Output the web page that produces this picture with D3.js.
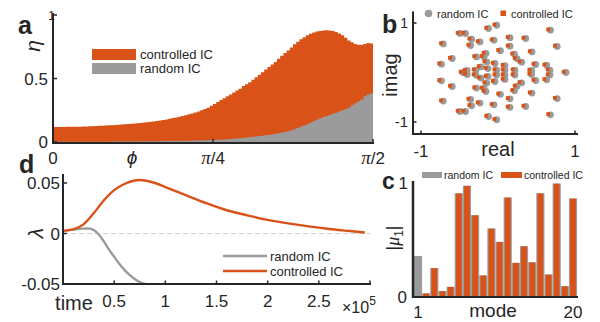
<!DOCTYPE html>
<html>
<head>
<meta charset="utf-8">
<script src="https://cdn.jsdelivr.net/npm/d3@7"></script>
<style>
  body { margin: 0; background: #fff; }
  text { font-family: "Liberation Sans", Arial, sans-serif; fill: #262626; }
</style>
</head>
<body>
<svg id="fig" width="600" height="322"></svg>
<script>
const ORANGE = "#d95319", GRAY = "#9b9b9b", INK = "#262626";

// ---- panel a: eta vs phi (100 bins over [0, pi/2]) ----
const etaControlled = [
  0.118,0.118,0.119,0.119,0.120,0.120,0.120,0.121,0.121,0.122,
  0.123,0.124,0.125,0.126,0.127,0.128,0.130,0.131,0.132,0.134,
  0.135,0.137,0.139,0.141,0.143,0.145,0.148,0.150,0.153,0.156,
  0.159,0.162,0.166,0.170,0.174,0.178,0.183,0.188,0.193,0.199,
  0.205,0.211,0.218,0.225,0.232,0.240,0.250,0.260,0.270,0.285,
  0.300,0.315,0.330,0.345,0.360,0.375,0.390,0.405,0.420,0.440,
  0.455,0.470,0.490,0.510,0.530,0.550,0.570,0.590,0.610,0.630,
  0.655,0.680,0.700,0.720,0.745,0.770,0.790,0.810,0.825,0.840,
  0.852,0.862,0.870,0.875,0.878,0.879,0.878,0.874,0.866,0.855,
  0.840,0.820,0.800,0.785,0.772,0.765,0.765,0.772,0.780,0.775
];
const etaRandom = [
  0.001,0.001,0.001,0.001,0.001,0.001,0.001,0.001,0.001,0.001,
  0.001,0.001,0.002,0.002,0.002,0.002,0.002,0.002,0.003,0.003,
  0.003,0.003,0.003,0.004,0.004,0.004,0.004,0.005,0.005,0.005,
  0.005,0.006,0.006,0.006,0.007,0.007,0.007,0.008,0.008,0.008,
  0.009,0.009,0.010,0.010,0.011,0.011,0.012,0.013,0.014,0.015,
  0.016,0.017,0.018,0.020,0.022,0.024,0.026,0.028,0.030,0.032,
  0.035,0.038,0.041,0.044,0.047,0.050,0.053,0.056,0.060,0.064,
  0.068,0.073,0.078,0.085,0.093,0.100,0.110,0.120,0.130,0.140,
  0.152,0.164,0.175,0.186,0.196,0.205,0.213,0.222,0.231,0.240,
  0.250,0.260,0.270,0.290,0.305,0.318,0.335,0.360,0.375,0.382
];
const phiTicks = [0, Math.PI / 4, Math.PI / 2];
const phiTickLabels = ["0", "π/4", "π/2"];

// ---- panel b: eigenvalues (random IC; controlled IC drawn on same spots) ----
const eigRe = [
  -0.017,-0.123,0.682,-0.494,-0.422,-0.342,-0.355,-0.234,-0.052,-0.710,
  0.156,0.360,0.769,0.442,0.156,0.032,-0.156,-0.279,-0.594,-0.734,
  0.214,0.247,0.308,0.490,0.632,-0.182,-0.147,-0.039,-0.221,-0.286,
  -0.130,0.090,0.090,0.220,-0.400,0.437,0.675,-0.017,
  -0.017,-0.123,0.682,-0.494,-0.422,-0.342,-0.355,-0.234,-0.052,-0.710,
  0.156,0.360,0.769,0.442,0.156,0.032,-0.156,-0.279,-0.594,-0.734,
  0.214,0.247,0.308,0.490,0.632,-0.182,-0.147,-0.039,-0.221,-0.286,
  -0.130,0.090,0.090,0.220,-0.400,0.437,0.675,-0.017,
  -0.455,0.883
];
const eigIm = [
  0.955,0.889,0.855,0.788,0.788,0.673,0.545,0.618,0.653,0.578,
  0.703,0.687,0.527,0.416,0.531,0.440,0.384,0.315,0.283,0.168,
  0.370,0.279,0.208,0.162,0.147,0.319,0.214,0.182,0.113,0.050,
  0.080,0.140,0.050,0.050,0.040,0.040,0.050,0.050,
  -0.955,-0.889,-0.855,-0.788,-0.788,-0.673,-0.545,-0.618,-0.653,-0.578,
  -0.703,-0.687,-0.527,-0.416,-0.531,-0.440,-0.384,-0.315,-0.283,-0.168,
  -0.370,-0.279,-0.208,-0.162,-0.147,-0.319,-0.214,-0.182,-0.113,-0.050,
  -0.080,-0.140,-0.050,-0.050,-0.040,-0.040,-0.050,-0.050,
  0.000,0.000
];

// ---- panel c: |mu_1| per mode ----
const modes = d3.range(1, 21);
const muRandom =     [0.357,0.032,0.252,0.052,0.089,0.902,0.968,0.712,0.188,0.596,0.480,0.866,0.298,0.442,0.302,0.902,0.196,0.987,0.095,0.857];
const muControlled = [0.010,0.030,0.250,0.050,0.087,0.900,0.965,0.710,0.186,0.594,0.478,0.864,0.296,0.440,0.300,0.900,0.194,0.985,0.093,0.855];

// ---- panel d: lambda vs time (x1e5) ----
const tControlled = [0,0.1,0.2,0.3,0.4,0.5,0.6,0.7,0.75,0.8,0.9,1.0,1.2,1.4,1.6,1.8,2.0,2.2,2.4,2.6,2.8,2.95];
const lamControlled = [0.0026,0.004,0.009,0.020,0.033,0.043,0.049,0.0525,0.053,0.0525,0.050,0.046,0.038,0.030,0.023,0.018,0.0135,0.010,0.007,0.0045,0.0025,0.001];
const tRandom = [0,0.1,0.2,0.25,0.3,0.35,0.4,0.45,0.5,0.55,0.6,0.65,0.7,0.75,0.8,0.85,0.9];
const lamRandom = [0.0026,0.0038,0.0048,0.005,0.0035,-0.001,-0.008,-0.016,-0.023,-0.030,-0.036,-0.041,-0.045,-0.048,-0.050,-0.0515,-0.053];
const timeTicks = [0.5, 1, 1.5, 2, 2.5];

const svg = d3.select("#fig");

function txt(x, y, s, o = {}) {
  const t = svg.append("text")
    .attr("x", x).attr("y", y)
    .attr("font-size", o.size || 15)
    .attr("text-anchor", o.anchor || "start")
    .text(s);
  if (o.weight) t.attr("font-weight", o.weight);
  if (o.italic) t.attr("font-style", "italic");
  if (o.family) t.attr("font-family", o.family);
  if (o.rotate) t.attr("transform", `rotate(${o.rotate},${x},${y})`);
  return t;
}
function axisLine(x1, y1, x2, y2, w = 2) {
  svg.append("line").attr("x1", x1).attr("y1", y1).attr("x2", x2).attr("y2", y2)
    .attr("stroke", INK).attr("stroke-width", w);
}

// ================= panel a =================
{
  const x = d3.scaleLinear().domain([0, Math.PI / 2]).range([53, 373]);
  const y = d3.scaleLinear().domain([0, 1]).range([142, 15]);
  const w = (Math.PI / 2) / etaControlled.length;
  const toPts = arr => arr.map((v, i) => ({ p: i * w, v })).concat([{ p: Math.PI / 2, v: arr[arr.length - 1] }]);
  const area = d3.area().x(d => x(d.p)).y0(y(0)).y1(d => y(d.v)).curve(d3.curveStepAfter);
  svg.append("path").datum(toPts(etaControlled)).attr("d", area).attr("fill", ORANGE);
  svg.append("path").datum(toPts(etaRandom)).attr("d", area).attr("fill", GRAY);

  axisLine(53, 13, 53, 143.5);
  axisLine(52, 143, 374, 143);
  [0, 0.5, 1].forEach(v => axisLine(53, y(v), 57, y(v), 1.5));
  phiTicks.forEach(v => axisLine(x(v), 143, x(v), 139, 1.5));
  txt(48, y(0.5) + 6, "0.5", { anchor: "end", size: 17 });
  txt(48, y(0) + 6, "0", { anchor: "end", size: 17 });
  txt(55, y(1) + 5, "1", { anchor: "end", size: 12 });
  phiTicks.forEach((v, i) => {
    const lab = phiTickLabels[i];
    if (i === 0) { txt(x(v), 164, lab, { anchor: "middle", size: 17 }); return; }
    const t = svg.append("text").attr("x", x(v)).attr("y", 164).attr("font-size", 17).attr("text-anchor", "middle");
    t.append("tspan").attr("font-family", "Liberation Serif, serif").attr("font-style", "italic").attr("font-size", 19).text("π");
    t.append("tspan").text(lab.slice(1));
  });
  txt(132, 164, "ϕ", { anchor: "middle", size: 19, italic: true, family: "Liberation Serif, serif" });
  txt(40, 46, "η", { anchor: "middle", size: 21, italic: true, family: "Liberation Serif, serif", rotate: -90 });
  txt(18, 34, "a", { size: 25, weight: "bold" });

  // legend
  svg.append("rect").attr("x", 92).attr("y", 49).attr("width", 44).attr("height", 11).attr("fill", ORANGE);
  svg.append("rect").attr("x", 92).attr("y", 63).attr("width", 44).attr("height", 11).attr("fill", GRAY);
  txt(140, 59, "controlled IC", { size: 13 });
  txt(140, 73, "random IC", { size: 13 });
}

// ================= panel b =================
{
  const x = d3.scaleLinear().domain([-1, 1]).range([421, 575]);
  const y = d3.scaleLinear().domain([-1, 1]).range([122, 23]);
  const pts = eigRe.map((r, i) => ({ r, im: eigIm[i] }));
  svg.append("g").selectAll("circle").data(pts).join("circle")
    .attr("cx", d => x(d.r)).attr("cy", d => y(d.im)).attr("r", 3.4).attr("fill", GRAY);
  svg.append("g").selectAll("rect").data(pts).join("rect")
    .attr("x", d => x(d.r) - 4.2).attr("y", d => y(d.im) - 2.6).attr("width", 3.8).attr("height", 3.8)
    .attr("fill", ORANGE);

  axisLine(413, 11.5, 413, 135);
  axisLine(412, 134, 578, 134);
  [-1, 1].forEach(v => { axisLine(x(v), 134, x(v), 130.5, 1.5); axisLine(413, y(v), 416.5, y(v), 1.5); });
  txt(x(-1), 157, "-1", { anchor: "middle", size: 17 });
  txt(x(1), 157, "1", { anchor: "middle", size: 17 });
  txt(408, y(1) + 5, "1", { anchor: "end", size: 14 });
  txt(408, y(-1) + 5, "-1", { anchor: "end", size: 15 });
  txt(498, 156, "real", { anchor: "middle", size: 20 });
  txt(397, 75, "imag", { anchor: "middle", size: 20, rotate: -90 });
  txt(382, 33, "b", { size: 25, weight: "bold" });

  // legend
  svg.append("circle").attr("cx", 428.5).attr("cy", 13.5).attr("r", 3.8).attr("fill", GRAY);
  txt(437, 17.5, "random IC", { size: 11 });
  svg.append("rect").attr("x", 500.5).attr("y", 10.5).attr("width", 5.5).attr("height", 5.5).attr("fill", ORANGE);
  txt(511, 17.5, "controlled IC", { size: 11 });
}

// ================= panel c =================
{
  const x = d3.scaleLinear().domain([1, 20]).range([418, 573]);
  const y = d3.scaleLinear().domain([0, 1]).range([297, 182]);
  const step = x(2) - x(1);
  svg.append("g").selectAll("rect").data(modes).join("rect")
    .attr("x", d => x(d) - step / 2).attr("width", step)
    .attr("y", (d, i) => y(muRandom[i])).attr("height", (d, i) => y(0) - y(muRandom[i]))
    .attr("fill", GRAY);
  svg.append("g").selectAll("rect").data(modes).join("rect")
    .attr("x", d => x(d) - 2.9).attr("width", 5.8)
    .attr("y", (d, i) => y(muControlled[i])).attr("height", (d, i) => y(0) - y(muControlled[i]))
    .attr("fill", ORANGE);

  axisLine(413, 181, 413, 298, 2.5);
  axisLine(412, 297, 578, 297, 1.8);
  txt(418, 318, "1", { anchor: "middle", size: 17 });
  txt(573, 318, "20", { anchor: "middle", size: 17 });
  txt(407, 303, "0", { anchor: "end", size: 17 });
  txt(408, 189, "1", { anchor: "end", size: 17 });
  txt(493, 317, "mode", { anchor: "middle", size: 19 });
  const mu = svg.append("text").attr("transform", "translate(399,238) rotate(-90)")
    .attr("text-anchor", "middle").attr("font-size", 18);
  mu.append("tspan").text("|");
  mu.append("tspan").attr("font-family", "Liberation Serif, serif").attr("font-style", "italic").text("μ");
  mu.append("tspan").attr("font-size", 12).attr("dy", 4).text("1");
  mu.append("tspan").attr("dy", -4).text("|");
  txt(382, 189, "c", { size: 23, weight: "bold" });

  // legend
  svg.append("rect").attr("x", 422).attr("y", 172).attr("width", 20).attr("height", 6).attr("fill", GRAY);
  txt(444, 178.5, "random IC", { size: 10.5 });
  svg.append("rect").attr("x", 501).attr("y", 172).attr("width", 21).attr("height", 6).attr("fill", ORANGE);
  txt(524, 178.5, "controlled IC", { size: 10.5 });
}

// ================= panel d =================
{
  const x = d3.scaleLinear().domain([0, 3]).range([63, 370]);
  const y = d3.scaleLinear().domain([-0.05, 0.05]).range([284, 183]);
  svg.append("clipPath").attr("id", "clipd").append("rect")
    .attr("x", 63).attr("y", 172).attr("width", 308).attr("height", 112);
  svg.append("line").attr("x1", 63).attr("x2", 370).attr("y1", y(0)).attr("y2", y(0))
    .attr("stroke", "#cfcfcf").attr("stroke-width", 1).attr("stroke-dasharray", "5,3");
  const line = d3.line().x(d => x(d[0])).y(d => y(d[1])).curve(d3.curveMonotoneX);
  const g = svg.append("g").attr("clip-path", "url(#clipd)");
  g.append("path").datum(tRandom.map((t, i) => [t, lamRandom[i]])).attr("d", line)
    .attr("fill", "none").attr("stroke", GRAY).attr("stroke-width", 2.4);
  g.append("path").datum(tControlled.map((t, i) => [t, lamControlled[i]])).attr("d", line)
    .attr("fill", "none").attr("stroke", ORANGE).attr("stroke-width", 2.4);

  axisLine(63, 174, 63, 285);
  axisLine(62, 284, 371, 284, 1.8);
  [0.05, 0, -0.05].forEach(v => axisLine(63, y(v), 67, y(v), 1.5));
  timeTicks.concat([3]).forEach(v => axisLine(x(v), 284, x(v), 280.5, 1.5));
  txt(60, y(0.05) + 6, "0.05", { anchor: "end", size: 17 });
  txt(60, y(0) + 6, "0", { anchor: "end", size: 17 });
  txt(60, y(-0.05) + 6, "-0.05", { anchor: "end", size: 17 });
  timeTicks.forEach(v => txt(x(v), 307, String(v), { anchor: "middle", size: 17 }));
  txt(74, 310, "time", { anchor: "middle", size: 20 });
  const ex = svg.append("text").attr("x", 342).attr("y", 313).attr("font-size", 16);
  ex.append("tspan").text("×10");
  ex.append("tspan").attr("font-size", 12).attr("dy", -8).text("5");
  txt(43, 233, "λ", { anchor: "middle", size: 21, italic: true, family: "Liberation Serif, serif", rotate: -90 });
  txt(19, 173, "d", { size: 25, weight: "bold" });

  // legend
  svg.append("line").attr("x1", 223).attr("x2", 267).attr("y1", 256).attr("y2", 256).attr("stroke", GRAY).attr("stroke-width", 2.4);
  svg.append("line").attr("x1", 223).attr("x2", 267).attr("y1", 271).attr("y2", 271).attr("stroke", ORANGE).attr("stroke-width", 2.4);
  txt(270, 260.5, "random IC", { size: 13 });
  txt(270, 275.5, "controlled IC", { size: 13 });
}
</script>
</body>
</html>
